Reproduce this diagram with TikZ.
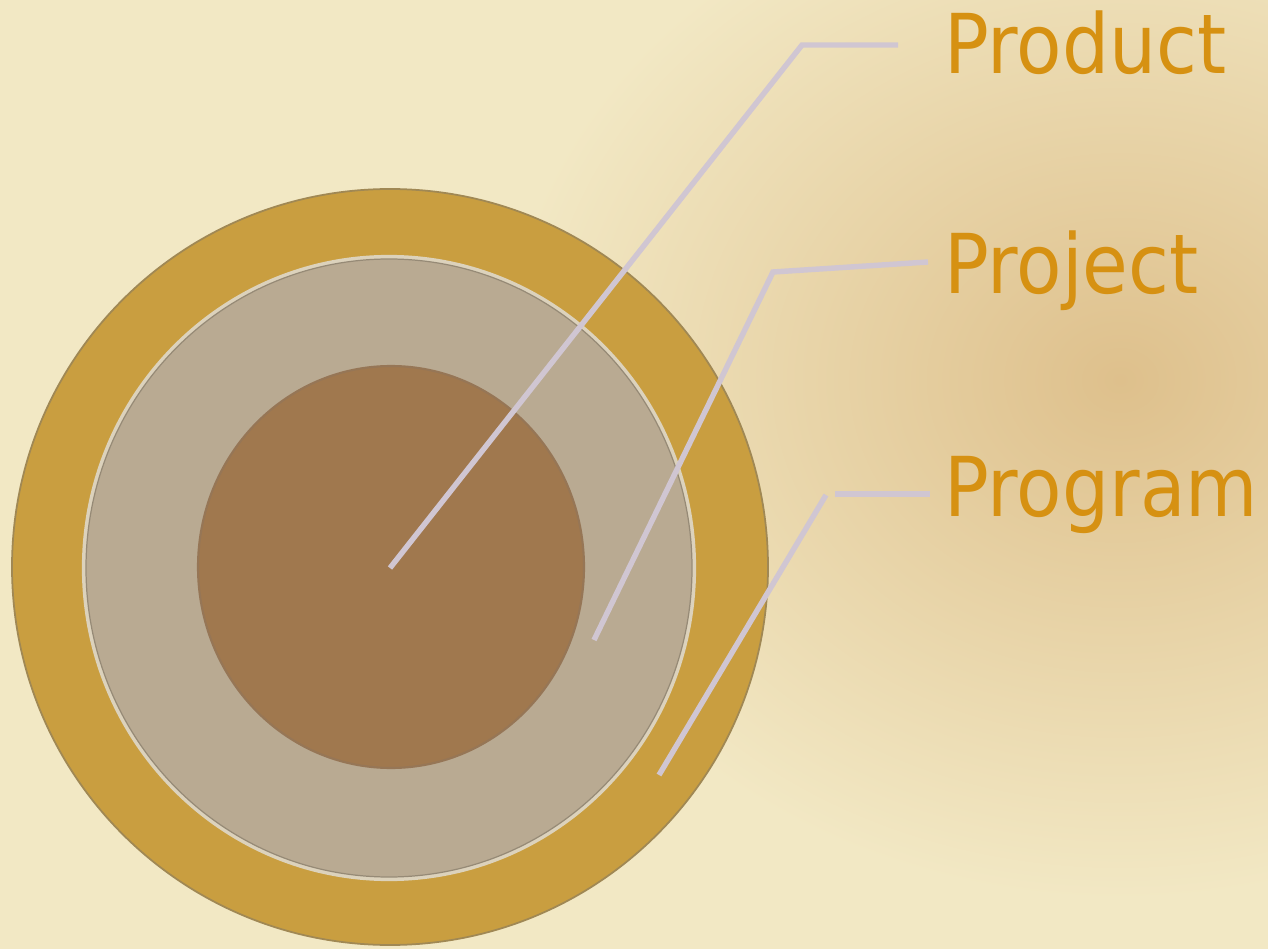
\documentclass[tikz,border=0pt]{standalone}
\usepackage{fontspec}
\usepackage{xcolor}
\usetikzlibrary{calc}
\newfontfamily\lblfont{DejaVu Sans}[FakeStretch=0.9]
\definecolor{bgcream}{RGB}{242,232,196}
\definecolor{bgtan}{RGB}{222,192,140}
\definecolor{progc}{RGB}{201,158,64}
\definecolor{progedge}{RGB}{160,136,84}
\definecolor{projc}{RGB}{185,170,146}
\definecolor{projrim}{RGB}{220,210,188}
\definecolor{projedge}{RGB}{150,138,118}
\definecolor{prodc}{RGB}{160,120,78}
\definecolor{prodedge}{RGB}{150,118,86}
\definecolor{leadc}{RGB}{208,198,210}
\definecolor{lblc}{RGB}{214,145,18}

\begin{document}
\begin{tikzpicture}[
  x=0.02cm, y=-0.02cm,
  lead/.style={draw=leadc, line width=3.1pt, line join=miter},
  lbl/.style={anchor=base west, inner sep=0pt, text=lblc,
              font=\lblfont\fontsize{47}{56}\selectfont},
]
\useasboundingbox (0,0) rectangle (1268,949);
% background
\fill[bgcream] (0,0) rectangle (1268,949);
\shade[inner color=bgtan, outer color=bgcream] (1120,380) ellipse[x radius=620, y radius=520];
% nested circles
\coordinate (ctr) at (390,567);
\draw[draw=progedge, line width=1pt, fill=progc] (ctr) circle[radius=378];
\draw[draw=projrim, line width=2.4pt, fill=projc] (389,568) ellipse[x radius=305, y radius=311];
\draw[draw=projedge, line width=0.7pt] (389,568) ellipse[x radius=303, y radius=309];
\draw[draw=prodedge, line width=1.2pt, fill=prodc] (391,567) ellipse[x radius=193, y radius=201];
% labels
\node[lbl] (prod) at (944,74) {Product};
\node[lbl] (proj) at (944,294) {Project};
\node[lbl] (prog) at (944,517) {Program};
% leaders
\coordinate (prod-in) at (390,568);
\coordinate (prod-bend) at (802,45);
\coordinate (prod-out) at (898,45);
\coordinate (proj-in) at (594,640);
\coordinate (proj-bend) at (773,272);
\coordinate (proj-out) at (928,262);
\coordinate (prog-in) at (659,775);
\coordinate (prog-bend) at (826,495);
\coordinate (prog-mid) at (835,494);
\coordinate (prog-out) at (930,494);
\draw[lead] (prod-in) -- (prod-bend) -- (prod-out);
\draw[lead] (proj-in) -- (proj-bend) -- (proj-out);
\draw[lead] (prog-in) -- (prog-bend);
\draw[lead] (prog-mid) -- (prog-out);
\end{tikzpicture}
\end{document}
